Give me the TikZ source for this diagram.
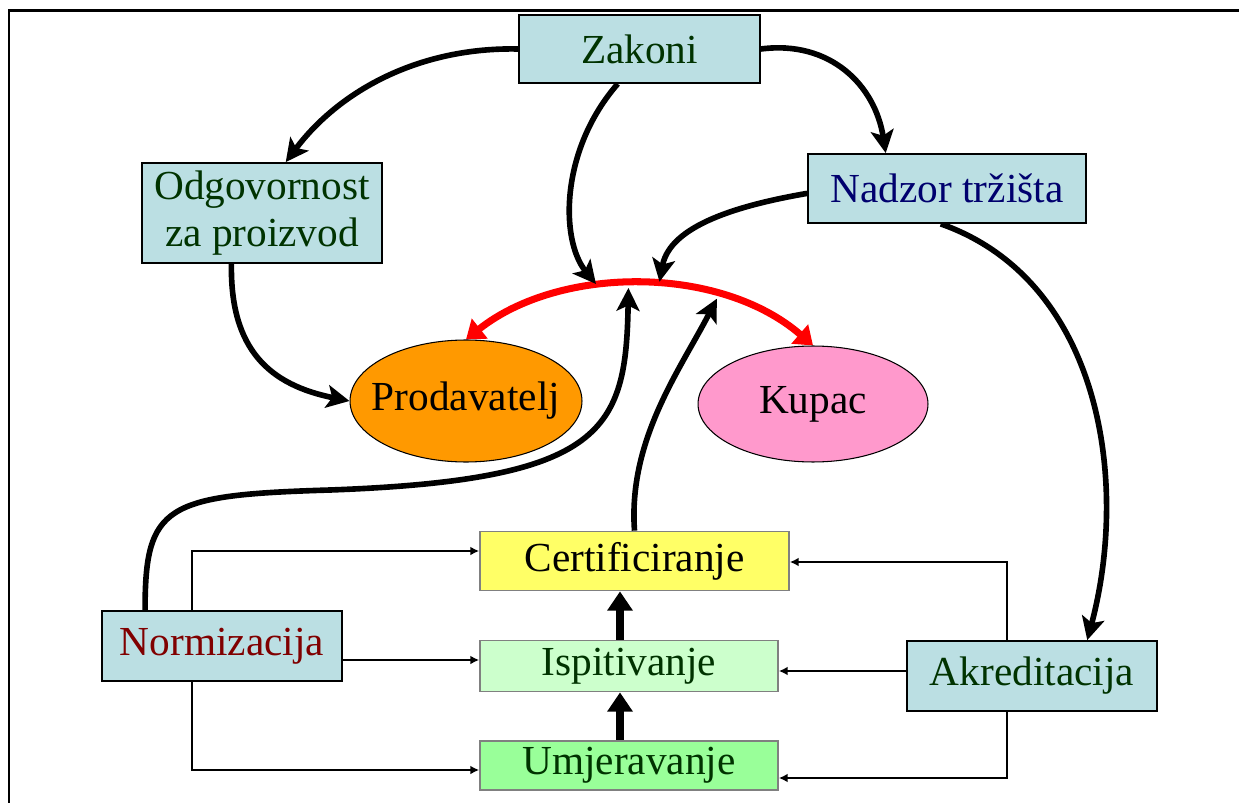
\documentclass[tikz,border=0pt]{standalone}
\usepackage{fontspec}
\setmainfont{Liberation Serif}
\usetikzlibrary{shapes,arrows.meta,calc}
\definecolor{lblue}{RGB}{187,223,227}
\definecolor{dgreen}{RGB}{0,51,0}
\definecolor{dnavy}{RGB}{0,0,110}
\definecolor{dred}{RGB}{128,0,0}
\definecolor{lyellow}{RGB}{255,255,102}
\definecolor{pgreen}{RGB}{204,255,204}
\definecolor{mgreen}{RGB}{153,255,153}
\definecolor{orng}{RGB}{255,153,0}
\definecolor{pnk}{RGB}{255,153,204}
\pgfdeclarelayer{edgelayer}
\pgfdeclarelayer{nodelayer}
\pgfsetlayers{edgelayer,nodelayer,main}
\tikzstyle{box}=[rectangle, fill=lblue, draw=black, line width=1pt, inner sep=0pt, align=center, font=\fontsize{23.5}{27}\selectfont]
\tikzstyle{stage}=[rectangle, draw=gray, line width=1pt, inner sep=0pt, text=dgreen, font=\fontsize{23.5}{27}\selectfont]
\tikzstyle{party}=[ellipse, draw=black, line width=0.6pt, inner sep=0pt, font=\fontsize{23.5}{27}\selectfont]
\tikzstyle{flow}=[-{Stealth[length=13pt,width=13pt,inset=3pt]}, draw=black, line width=3.2pt]
\tikzstyle{link}=[-{Latex[length=5pt,width=5pt]}, draw=black, line width=1.1pt]
\tikzstyle{lift}=[-{Triangle[length=11pt,width=14pt]}, draw=black, line width=4.5pt]
\tikzstyle{trade}=[{Triangle[length=10pt,width=14pt]}-{Triangle[length=10pt,width=14pt]}, draw=red, line width=4pt]

\begin{document}
\begin{tikzpicture}[x=0.02cm, y=-0.02cm]
            \useasboundingbox (0,0) rectangle (1239,803);
            \draw [line width=1.7pt] (9,803) -- (9,10.5) -- (1239,10.5);
            \begin{pgfonlayer}{nodelayer}
                \node [style=box, text=dgreen, minimum width=4.82cm, minimum height=1.36cm] (zak) at (639.5, 49) {Zakoni};
                \node [style=box, text=dgreen, minimum width=4.8cm, minimum height=2cm] (odg) at (262, 213) {Odgovornost\\za proizvod};
                \node [style=box, text=dnavy, minimum width=5.56cm, minimum height=1.38cm] (nad) at (947, 188.5) {Nadzor tržišta};

                \node [style=party, fill=orng, minimum width=4.64cm, minimum height=2.44cm] (prod) at (466, 401) {\makebox[0pt]{Prodavatelj}};
                \node [style=party, fill=pnk, minimum width=4.6cm, minimum height=2.32cm] (kup) at (813, 404) {\makebox[0pt]{Kupac}};

                \node [style=stage, fill=lyellow, text=black, minimum width=6.18cm, minimum height=1.18cm] (cert) at (634.5, 561) {Certificiranje};
                \node [style=stage, fill=pgreen, minimum width=5.96cm, minimum height=1.02cm] (isp) at (629, 666) {Ispitivanje};
                \node [style=stage, fill=mgreen, minimum width=5.96cm, minimum height=0.98cm] (umj) at (629, 765.5) {Umjeravanje};

                \node [style=box, text=dred, minimum width=4.8cm, minimum height=1.4cm] (norm) at (222, 646) {Normizacija};
                \node [style=box, text=dgreen, minimum width=5cm, minimum height=1.4cm] (akr) at (1032, 676) {Akreditacija};

                \coordinate (nl) at (192, 0);
                \coordinate (ar) at (1007, 0);
                \coordinate (lx) at (620, 0);
            \end{pgfonlayer}
            \begin{pgfonlayer}{edgelayer}
                \draw [style=trade] (prod.north) .. controls (560, 265) and (720, 265) .. (kup.north)
                    coordinate [pos=0.39] (a1) coordinate [pos=0.55] (a2)
                    coordinate [pos=0.47] (a3) coordinate [pos=0.71] (a4);

                \draw [style=flow] (zak.west) .. controls (420, 47) and (340, 90) .. (odg.65);
                \draw [style=flow] (zak.east) .. controls (830, 40) and (875, 85) .. (nad.150);
                \draw [style=flow, shorten >=2pt] (zak.238) .. controls (560, 150) and (560, 240) .. (a1);
                \draw [style=flow, shorten >=2pt] (nad.182) .. controls (740, 205) and (670, 225) .. (a2);
                \draw [style=flow] (nad.260) .. controls (1100, 280) and (1130, 480) .. (akr.33);
                \draw [style=flow] (odg.239) .. controls (230, 350) and (270, 385) .. (prod.west);
                \draw [style=flow, shorten >=2pt] (norm.155) .. controls (145, 505) and (165, 495) .. (330, 490)
                    .. controls (605, 480) and (626, 430) .. (a3);
                \draw [style=flow, shorten >=2pt] (cert.north) .. controls (628, 440) and (680, 370) .. (a4);

                \draw [style=link] (norm.north -| nl) |- ($(cert.west)+(0,-10)$);
                \draw [style=link] ($(norm.east)+(0,14)$) -- ($(isp.west)+(0,-6)$);
                \draw [style=link] (norm.south -| nl) |- ($(umj.west)+(0,4.5)$);
                \draw [style=link] (akr.north -| ar) |- ($(cert.east)+(0,1)$);
                \draw [style=link] ($(akr.west)+(0,-5)$) -- ($(isp.east)+(0,5)$);
                \draw [style=link] (akr.south -| ar) |- ($(umj.east)+(0,12.5)$);

                \draw [style=lift] (isp.north -| lx) -- (cert.south -| lx);
                \draw [style=lift] (umj.north -| lx) -- (isp.south -| lx);
            \end{pgfonlayer}
        \end{tikzpicture}
\end{document}
